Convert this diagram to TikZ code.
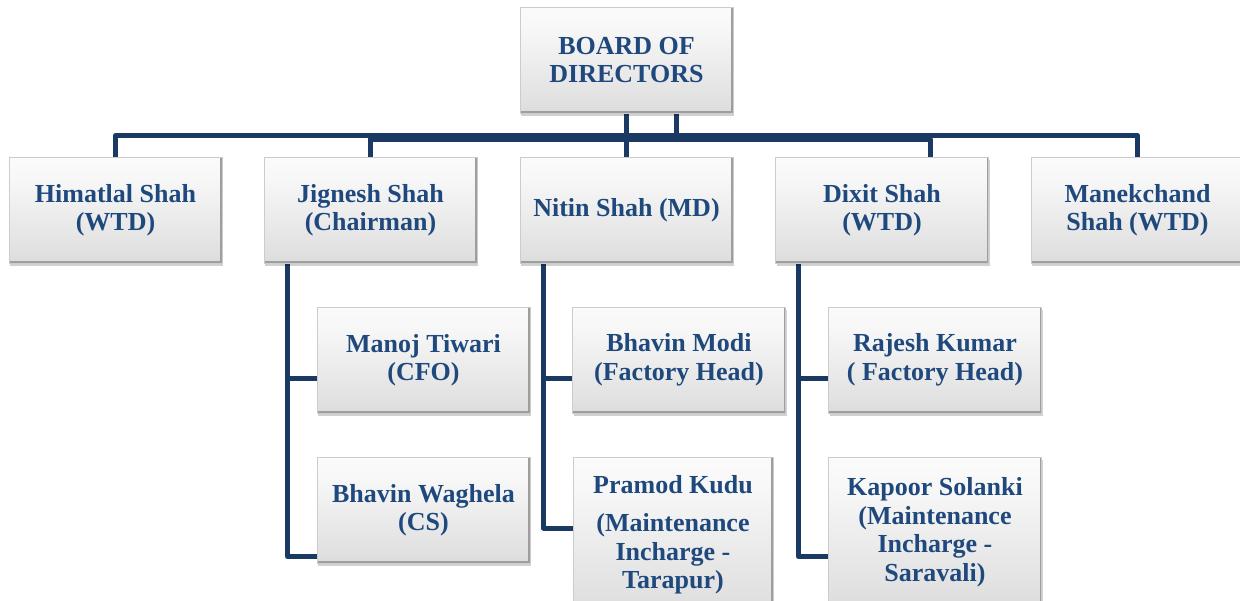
\documentclass[tikz,border=0pt]{standalone}
\usepackage{fontspec}
\setmainfont{Liberation Serif}
\usetikzlibrary{shadows,calc}
\definecolor{txtblue}{RGB}{31,73,125}
\definecolor{linkblue}{RGB}{26,58,99}
\pgfdeclarelayer{paper}
\pgfdeclarelayer{bg}
\pgfsetlayers{paper,bg,main}
\pgfdeclareverticalshading{boxshade}{100bp}{color(0bp)=(black!30); color(5bp)=(black!22); color(30bp)=(black!12); color(65bp)=(black!3); color(88bp)=(white); color(100bp)=(white)}
\tikzset{
  orgbox/.style={rectangle, minimum width=213pt, minimum height=106pt, inner sep=0pt,
    shading=boxshade, draw=black!20, line width=0.6pt, text=txtblue,
    font=\bfseries\fontsize{26}{28.5}\selectfont, align=center,
    drop shadow={shadow xshift=1pt, shadow yshift=-3pt, opacity=0.18, fill=black},
    path picture={\draw[black!38, line width=4pt]
      (path picture bounding box.south west) -- (path picture bounding box.south east)
      -- (path picture bounding box.north east);}},
  link/.style={draw=linkblue, line width=5pt, line join=round}
}
\begin{document}
\begin{tikzpicture}[x=1pt, y=-1pt]
\useasboundingbox (0,0) rectangle (1240,600);
\begin{pgfonlayer}{paper}
\fill[white] (0,0) rectangle (1240,600);
\end{pgfonlayer}

\node[orgbox] (board) at (626.5,60) {BOARD OF\\DIRECTORS};
\node[orgbox] (him) at (115.5,210) {Himatlal Shah\\(WTD)};
\node[orgbox] (jig) at (370.5,210) {Jignesh Shah\\(Chairman)};
\node[orgbox] (nit) at (626.5,210) {Nitin Shah (MD)};
\node[orgbox] (dix) at (882,210) {Dixit Shah\\(WTD)};
\node[orgbox] (man) at (1137.5,210) {Manekchand\\Shah (WTD)};
\node[orgbox] (mt) at (423.5,360) {Manoj Tiwari\\(CFO)};
\node[orgbox] (bw) at (423.5,510) {Bhavin Waghela\\(CS)};
\node[orgbox] (bm) at (679,360) {Bhavin Modi\\(Factory Head)};
\node[orgbox, minimum width=200pt, minimum height=155pt] (pk) at (673,534.5) {Pramod Kudu\\[10pt](Maintenance\\Incharge -\\Tarapur)};
\node[orgbox] (rk) at (935,360) {Rajesh Kumar\\( Factory Head)};
\node[orgbox, minimum height=150pt] (ks) at (935,532) {Kapoor Solanki\\(Maintenance\\Incharge -\\Saravali)};

\coordinate (busA) at (0,135.5);
\coordinate (busB) at (0,139.5);
\coordinate (boardR) at (676,0);
\coordinate (dixdrop) at (930.5,0);
\coordinate (spJ) at (287.5,0);
\coordinate (spN) at (543.5,0);
\coordinate (spD) at (798.5,0);
\coordinate (brT) at (0,378.5);
\coordinate (brJ) at (0,556.5);
\coordinate (brN) at (0,528);
\coordinate (brD) at (0,556.5);

\begin{pgfonlayer}{bg}
\draw[link] (him.north) -- (him.north |- busA) -- (man.north |- busA) -- (man.north);
\draw[link] (board.south) -- (nit.north);
\draw[link] (board.south -| boardR) -- (boardR |- busA);
\draw[link] (jig.north |- busB) -- (dixdrop |- busB) -- (dixdrop |- dix.north);
\draw[link] (jig.north |- busA) -- (jig.north);
% Jignesh
\draw[link] (jig.south -| spJ) -- (spJ |- brJ) -- (bw.west |- brJ);
\draw[link] (spJ |- brT) -- (mt.west |- brT);
% Nitin
\draw[link] (nit.south -| spN) -- (spN |- brN) -- (pk.west |- brN);
\draw[link] (spN |- brT) -- (bm.west |- brT);
% Dixit
\draw[link] (dix.south -| spD) -- (spD |- brD) -- (ks.west |- brD);
\draw[link] (spD |- brT) -- (rk.west |- brT);
\end{pgfonlayer}
\end{tikzpicture}
\end{document}
